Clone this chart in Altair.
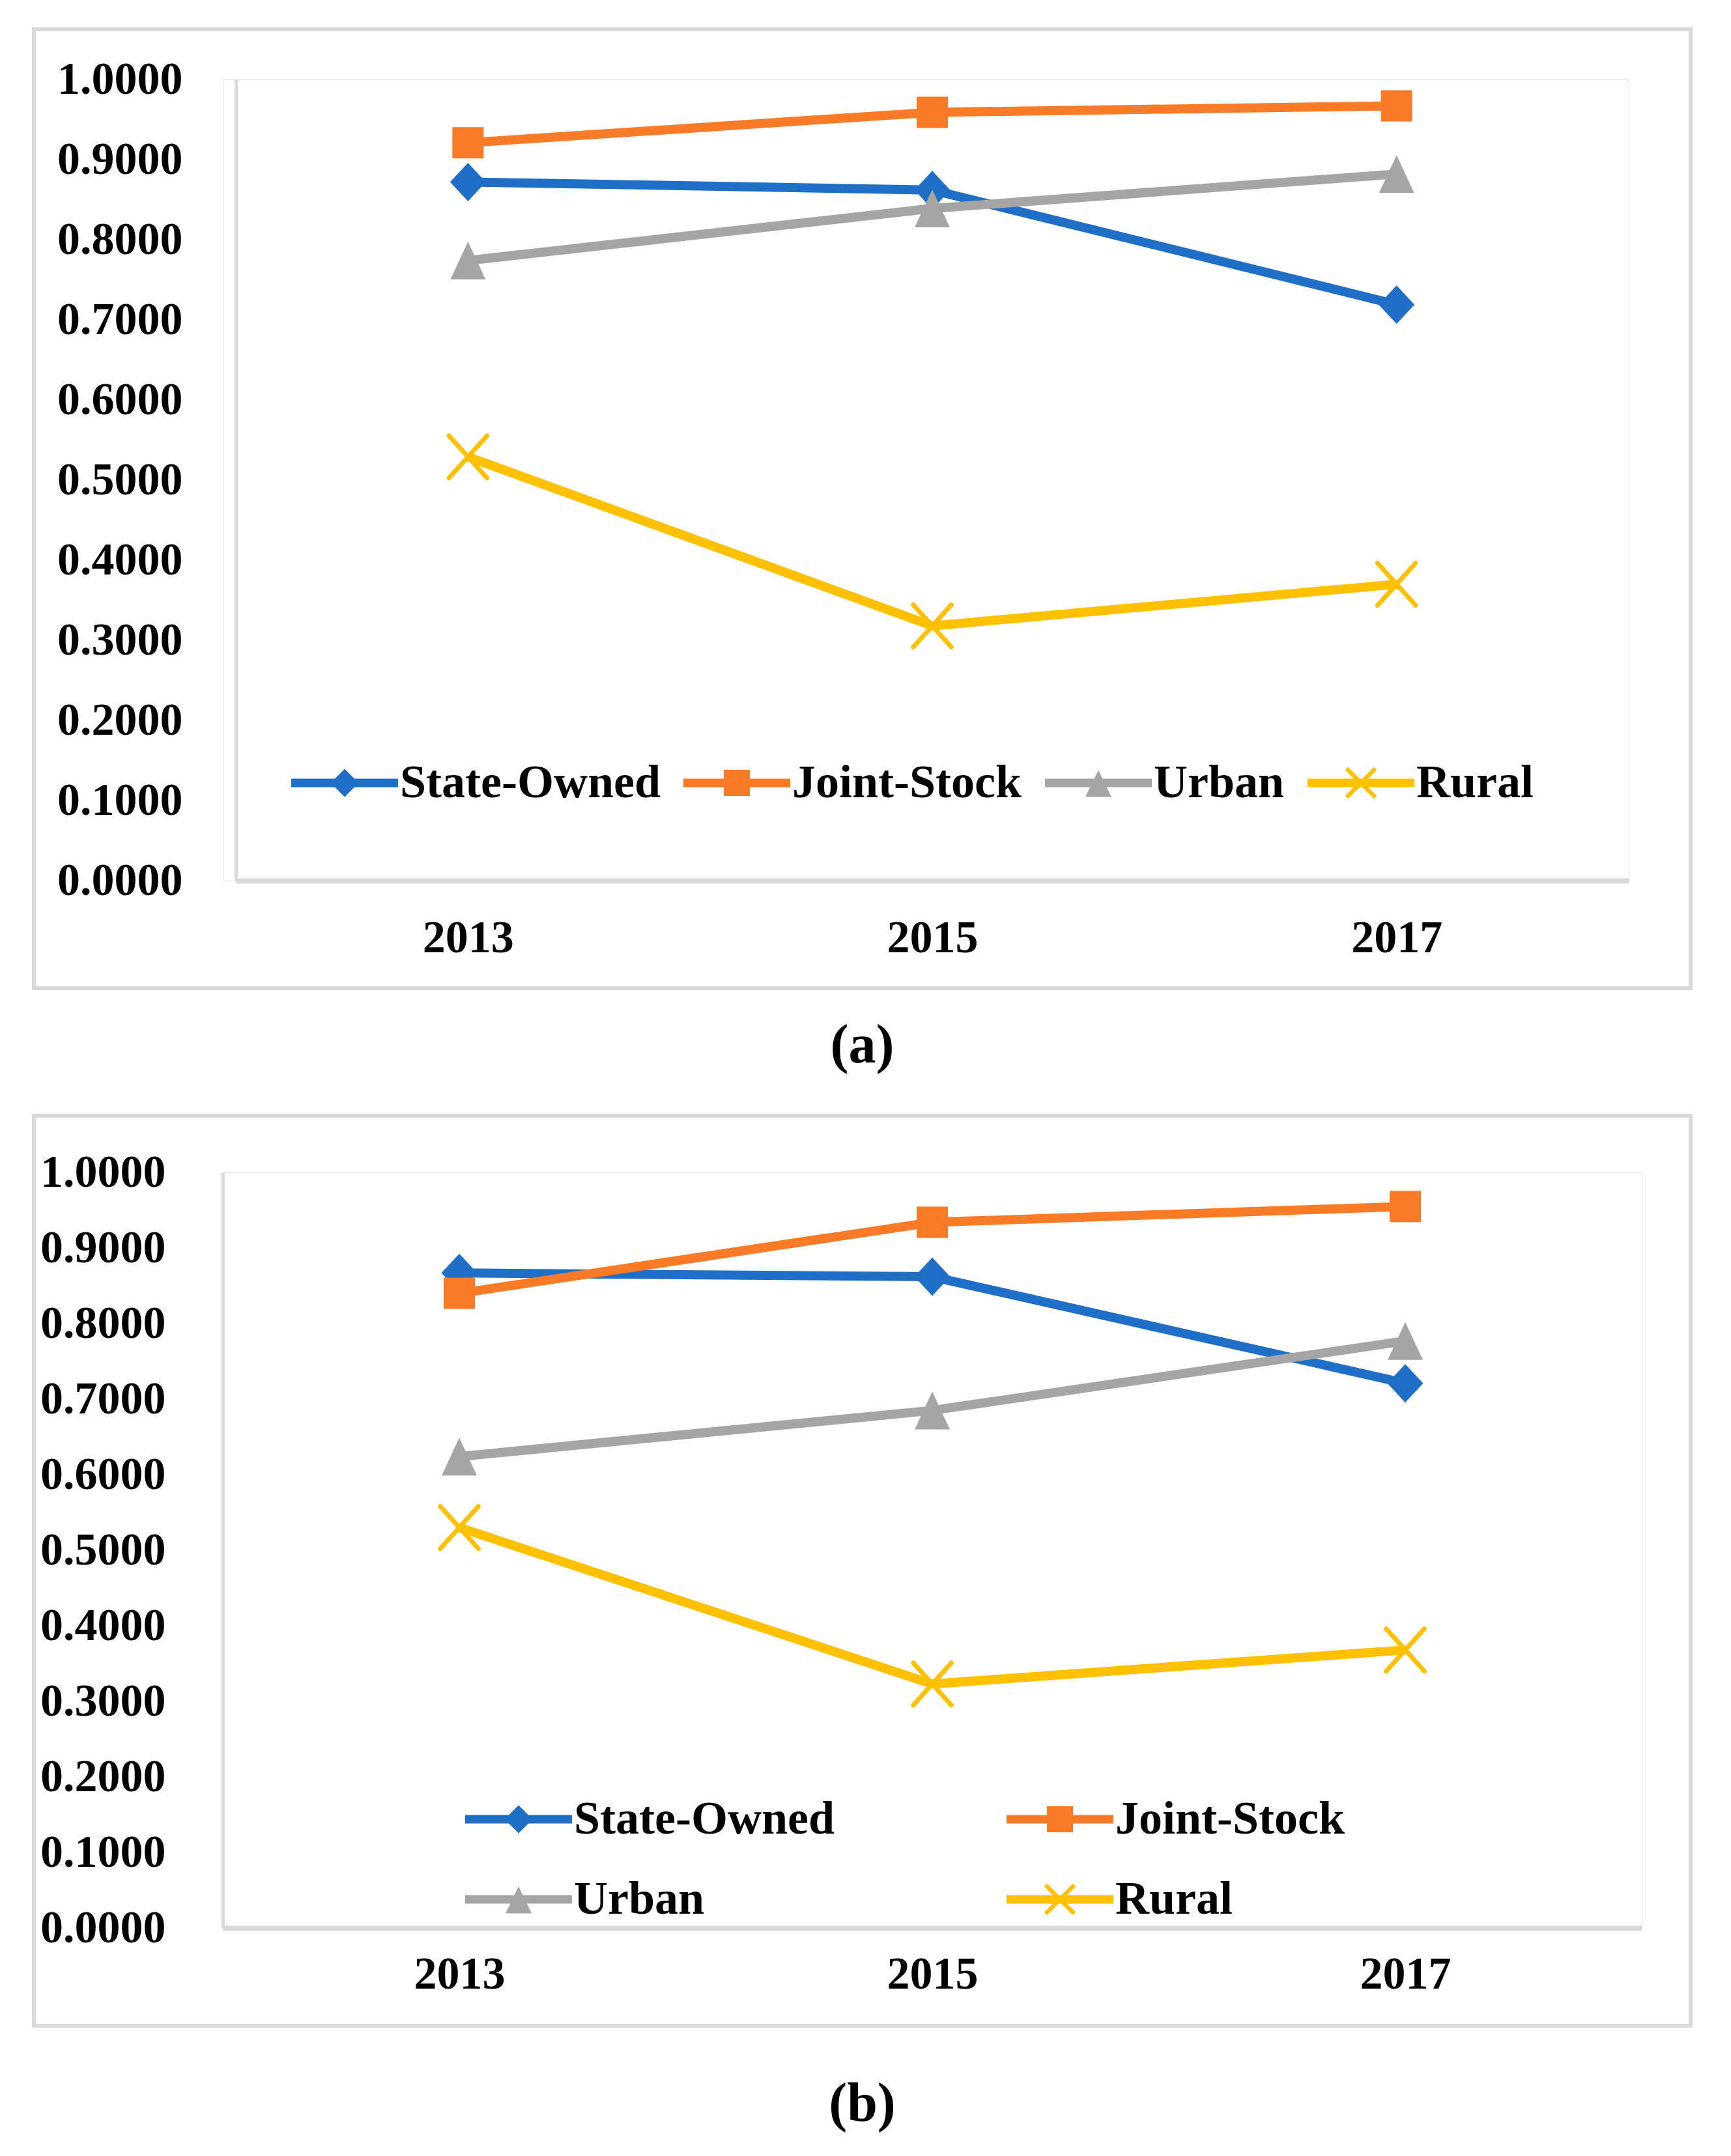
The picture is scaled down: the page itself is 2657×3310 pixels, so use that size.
import altair as alt
import pandas as pd

YEARS = ["2013", "2015", "2017"]
SERIES = ["State-Owned", "Joint-Stock", "Urban", "Rural"]
COLORS = ["#1F6FC6", "#FA7B27", "#A5A5A5", "#FFC000"]

A_STATE = [0.872, 0.862, 0.719]
A_JOINT = [0.921, 0.959, 0.967]
A_URBAN = [0.774, 0.839, 0.882]
A_RURAL = [0.529, 0.318, 0.370]

B_STATE = [0.867, 0.862, 0.721]
B_JOINT = [0.840, 0.934, 0.955]
B_URBAN = [0.624, 0.685, 0.777]
B_RURAL = [0.530, 0.323, 0.368]

Y_TICKS = [0.0, 0.1, 0.2, 0.3, 0.4, 0.5, 0.6, 0.7, 0.8, 0.9, 1.0]

FONT = "Liberation Serif"
FRAME = "#D9D9D9"

# plot markers (custom symbol paths in the unit square)
MARK_DIAMOND = "M0,-1L0.93,0L0,1L-0.93,0Z"
MARK_TRIANGLE = "M0,-1L0.93,1L-0.93,1Z"
MARK_X = "M-0.9,-1L0.9,1M-0.9,1L0.9,-1"


# legend symbols: line segment plus marker (unit = 22 px)
def _xarm(cx, d=0.15):
    o = d / 1.4142
    a = f"M{cx-1+o:.3f},{-1-o:.3f}L{cx+1+o:.3f},{1-o:.3f}L{cx+1-o:.3f},{1+o:.3f}L{cx-1-o:.3f},{-1+o:.3f}Z"
    b = f"M{cx-1-o:.3f},{1-o:.3f}L{cx+1-o:.3f},{-1-o:.3f}L{cx+1+o:.3f},{-1+o:.3f}L{cx-1+o:.3f},{1+o:.3f}Z"
    return a + b


LINE = "M-1,-0.295H6.455V0.295H-1Z"
C = 2.727
LEG_PATHS = [
    LINE + f"M{C},-0.98L{C+0.98},0L{C},0.98L{C-0.98},0Z",
    LINE + f"M{C-0.91},-0.91H{C+0.91}V0.91H{C-0.91}Z",
    LINE + f"M{C},-0.9L{C+0.91},0.98L{C-0.91},0.98Z",
    LINE + _xarm(C),
]

# both panel groups share the same left origin; panel (a)'s plot starts 'shift' px further right
FRAME_X = (-290, 2253)


def make_df(vals):
    rows = []
    for s, v in zip(SERIES, vals):
        for yr, val in zip(YEARS, v):
            rows.append({"year": yr, "series": s, "value": val})
    return pd.DataFrame(rows)


def panel(vals, shift, W, H, frame_y, leg, ylabpad, xlabpad, caption, capoff):
    df = make_df(vals)
    base = alt.Chart(df)
    GW = shift + W
    xenc = alt.X("year:N", sort=YEARS,
                 scale=alt.Scale(type="point", padding=0.5, range=[shift, GW]),
                 axis=alt.Axis(title=None, labelAngle=0, ticks=False,
                               domainColor=FRAME, domainWidth=8,
                               labelFont=FONT, labelFontSize=70,
                               labelFontWeight="bold", labelColor="black",
                               labelPadding=xlabpad))
    yaxis_kw = dict(title=None, values=Y_TICKS, format=".4f",
                    ticks=False, grid=False,
                    domainColor=FRAME, domainWidth=5,
                    labelFont=FONT, labelFontSize=70,
                    labelFontWeight="bold", labelColor="black",
                    labelLimit=1000, labelPadding=ylabpad)
    if shift:
        yaxis_kw["offset"] = -shift
    yenc = alt.Y("value:Q", scale=alt.Scale(domain=[0, 1], nice=False),
                 axis=alt.Axis(**yaxis_kw))
    ft, fb = frame_y
    layers = [
        alt.Chart(pd.DataFrame({"f": [0]})).mark_rect(
            fill=None, stroke=FRAME, strokeWidth=6, clip=False
        ).encode(x=alt.value(FRAME_X[0]), x2=alt.value(FRAME_X[1]),
                 y=alt.value(-ft), y2=alt.value(H + fb))
    ]
    markers = [
        dict(shape=MARK_DIAMOND, size=3481, filled=True),
        dict(shape="square", size=2304, filled=True),
        dict(shape=MARK_TRIANGLE, size=3364, filled=True),
        dict(shape=MARK_X, size=4225, filled=False, strokeWidth=7, strokeCap="round"),
    ]
    for s, col, mk in zip(SERIES, COLORS, markers):
        sub = base.transform_filter(alt.datum.series == s)
        layers.append(sub.mark_line(color=col, strokeWidth=14).encode(x=xenc, y=yenc))
        layers.append(sub.mark_point(color=col, opacity=1, **mk).encode(x=xenc, y=yenc))
    lx, ly, cols, colpad, rowpad = leg
    layers.append(
        base.transform_filter(alt.datum.value < -1).mark_point(filled=True, opacity=1).encode(
            x=xenc, y=yenc,
            color=alt.Color("series:N", scale=alt.Scale(domain=SERIES, range=COLORS),
                            legend=alt.Legend(
                                orient="none", legendX=lx, legendY=ly,
                                direction="horizontal", columns=cols,
                                title=None, padding=0,
                                symbolSize=1936, symbolStrokeWidth=0,
                                labelOffset=109, labelFont=FONT, labelFontSize=72,
                                labelFontWeight="bold", labelColor="black",
                                labelLimit=1000, columnPadding=colpad,
                                rowPadding=rowpad)),
            shape=alt.Shape("series:N", scale=alt.Scale(domain=SERIES, range=LEG_PATHS)),
        )
    )
    return alt.layer(*layers).properties(
        width=GW, height=H,
        title=alt.TitleParams(caption, orient="bottom", anchor="middle",
                              frame="bounds", font=FONT, fontSize=84,
                              fontWeight="bold", color="black", offset=capoff),
    )


pa = panel([A_STATE, A_JOINT, A_URBAN, A_RURAL], 20, 2138, 1230,
           (77, 165), (91, 1044, 4, 21, 0), 82, 54, "(a)", 45)
pb = panel([B_STATE, B_JOINT, B_URBAN, B_RURAL], 0, 2178, 1160,
           (87, 150), (358, 957, 2, 250, 51), 88, 37, "(b)", 77)

chart = alt.vconcat(pa, pb, spacing=60).resolve_scale(
    color="independent", shape="independent"
).resolve_legend(color="independent", shape="independent").properties(
    padding={"left": 40, "top": 33, "right": 20, "bottom": 20}
).configure_view(stroke=None).configure(background="white")

chart.save("out.html", embed_options={"renderer": "svg", "actions": False})
